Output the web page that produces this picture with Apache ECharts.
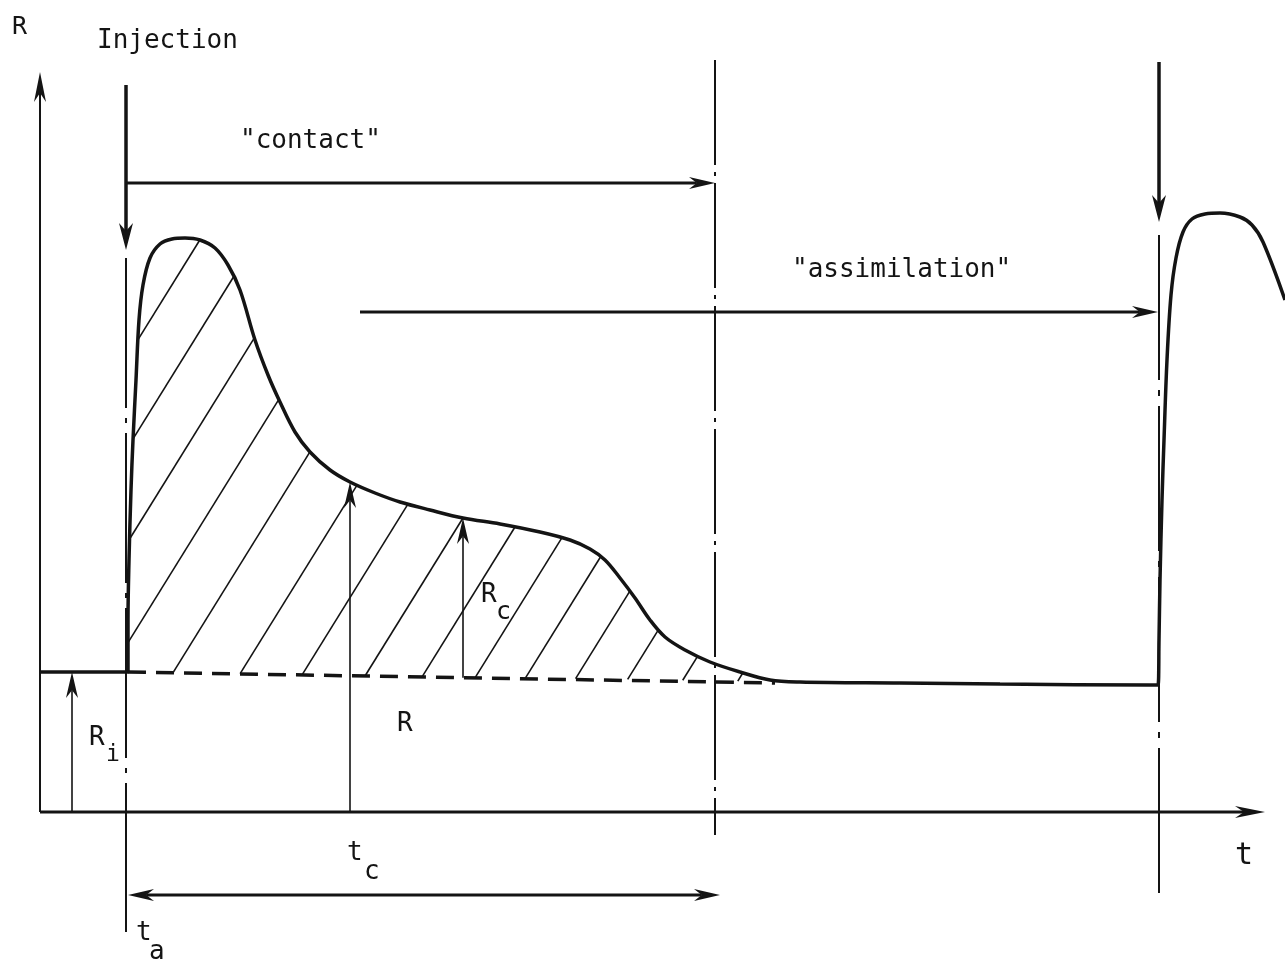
<!DOCTYPE html>
<html>
<head>
<meta charset="utf-8">
<title>Response R(t) after injection</title>
<script src="https://cdn.jsdelivr.net/npm/echarts@6/dist/echarts.min.js"></script>
<style>
  html, body { margin: 0; padding: 0; background: #fff; }
  #chart { width: 1285px; height: 960px; }
</style>
</head>
<body>
<div id="chart"></div>
<script>
// Response R versus time t. Both axes use the same unit length,
// so the hatching angle is the same in data space and on screen.

// Recorded response: baseline R_i, peak after the first injection,
// relaxation back to the baseline, then the start of the next peak.
const responseT = [0, 84, 88, 88, 89, 91, 93, 96, 99, 103,
  110, 120, 132, 145, 160, 175, 188, 200, 215, 228,
  240, 255, 270, 290, 310, 335, 360, 390, 423, 460,
  500, 530, 550, 565, 580, 595, 610, 625, 645, 670,
  700, 730, 760, 860, 960, 1110, 1118, 1119, 1120, 1122,
  1124, 1127, 1131, 1136, 1143, 1152, 1165, 1180, 1200, 1212,
  1223, 1245];
const responseR = [140, 140, 140, 192, 252, 322, 372, 432, 492, 527,
  554, 568, 573, 574, 572, 564, 547, 522, 472, 437,
  410, 380, 360, 342, 330, 319, 310, 302, 294, 288,
  280, 272, 263, 252, 234, 214, 192, 175, 162, 150,
  140, 132, 130, 129, 128, 127, 127, 172, 232, 312,
  372, 452, 517, 554, 580, 593, 598, 599, 595, 587,
  570, 512];

// Initial level R_i carried under the first peak
const baselineT = [88, 735];
const baselineR = [140, 129];

// Where each hatch stroke of the contact area crosses the baseline
const hatchT = [-106, -50, 8, 70, 133, 200, 262, 325, 382, 435, 485, 535, 587, 642, 697];

// Characteristic times
const tInjection = [86, 1119];        // t_a and the next injection
const contactSpan = [86, 675];        // "contact"
const assimilationSpan = [320, 1118]; // "assimilation"
const contactTimeSpan = [88, 680];    // t_c
const tSampleR = 310;                 // where R is read
const tSampleRc = 423;                // where R_c is read
const tRi = 32;                       // where R_i is read

const INK = '#141414';
const FONT = '"DejaVu Sans Mono", "Liberation Mono", monospace';
const HATCH_SLOPE = 0.62; // dt per unit of R along a hatch stroke

function interp(xs, ys, x) {
  if (x <= xs[0]) return ys[0];
  for (let i = 1; i < xs.length; i++) {
    if (x <= xs[i]) {
      const x0 = xs[i - 1], x1 = xs[i];
      if (x1 === x0) return ys[i];
      return ys[i - 1] + (ys[i] - ys[i - 1]) * (x - x0) / (x1 - x0);
    }
  }
  return ys[ys.length - 1];
}
function baseAt(t) {
  const k = (baselineR[1] - baselineR[0]) / (baselineT[1] - baselineT[0]);
  return baselineR[0] + k * (t - baselineT[0]);
}
// response value on the first peak at time t
function responseAt(t) {
  const n = responseT.findIndex(v => v > 760);
  return interp(responseT.slice(3, n), responseR.slice(3, n), t);
}

// Region between the first peak and the baseline, used to clip the hatching
const hatchPoly = [];
responseT.forEach((t, i) => { if (t >= 88 && t <= 760) hatchPoly.push([t, responseR[i]]); });

function hatchSegments(t0) {
  const p0 = [t0, baseAt(t0)];
  const d = [HATCH_SLOPE, 1];
  const hits = [];
  for (let i = 0; i < hatchPoly.length; i++) {
    const a = hatchPoly[i], b = hatchPoly[(i + 1) % hatchPoly.length];
    const e = [b[0] - a[0], b[1] - a[1]];
    const den = d[0] * e[1] - d[1] * e[0];
    if (Math.abs(den) < 1e-9) continue;
    const w = [a[0] - p0[0], a[1] - p0[1]];
    const s = (w[0] * e[1] - w[1] * e[0]) / den;
    const u = (w[0] * d[1] - w[1] * d[0]) / den;
    if (u >= 0 && u < 1) hits.push(s);
  }
  hits.sort((x, y) => x - y);
  const segs = [];
  for (let i = 0; i + 1 < hits.length; i += 2) {
    segs.push([[p0[0] + d[0] * hits[i], p0[1] + hits[i]],
               [p0[0] + d[0] * hits[i + 1], p0[1] + hits[i + 1]]]);
  }
  return segs;
}

function arrowHead(tip, ang, L, W) {
  const c = Math.cos(ang), s = Math.sin(ang);
  const pt = (a, b) => [tip[0] + a * c - b * s, tip[1] + a * s + b * c];
  return {
    type: 'polygon',
    shape: { points: [pt(0, 0), pt(-L, W / 2), pt(-0.7 * L, 0), pt(-L, -W / 2)] },
    style: { fill: INK }
  };
}
function arrowRenderer(width, L, W) {
  return function (params, api) {
    const p1 = api.coord([api.value(0), api.value(1)]);
    const p2 = api.coord([api.value(2), api.value(3)]);
    const both = api.value(4) === 2;
    const ang = Math.atan2(p2[1] - p1[1], p2[0] - p1[0]);
    const c = Math.cos(ang), s = Math.sin(ang);
    const back = 0.7 * L;
    const a = both ? [p1[0] + c * back, p1[1] + s * back] : p1;
    const b = [p2[0] - c * back, p2[1] - s * back];
    const children = [{
      type: 'line',
      shape: { x1: a[0], y1: a[1], x2: b[0], y2: b[1] },
      style: { stroke: INK, lineWidth: width }
    }, arrowHead(p2, ang, L, W)];
    if (both) children.push(arrowHead(p1, ang + Math.PI, L, W));
    return { type: 'group', children };
  };
}

// Arrow items: [t1, R1, t2, R2, heads]
const axisArrows = [
  [0, 0, 1225, 0, 1],
  [0, 0, 0, 740, 1]
];
const boldArrows = [
  [contactSpan[0], 629, contactSpan[1], 629, 1],
  [assimilationSpan[0], 500, assimilationSpan[1], 500, 1],
  [contactTimeSpan[0], -83, contactTimeSpan[1], -83, 2]
];
const injectionArrows = [
  [tInjection[0], 727, tInjection[0], 562, 1],
  [tInjection[1], 750, tInjection[1], 590, 1]
];
const levelArrows = [
  [tRi, 0, tRi, baseAt(88), 1],
  [tSampleR, 0, tSampleR, responseAt(tSampleR), 1],
  [tSampleRc, baseAt(tSampleRc), tSampleRc, responseAt(tSampleRc), 1]
];

function vline(t, r1, r2, dash) {
  return {
    type: 'line', data: [[t, r1], [t, r2]], showSymbol: false, symbol: 'none',
    clip: false, silent: true, z: 2,
    lineStyle: { color: INK, width: 2, type: dash }
  };
}

const chart = echarts.init(document.getElementById('chart'));
chart.setOption({
  backgroundColor: '#ffffff',
  animation: false,
  grid: { left: 40, right: 0, top: 0, bottom: 148 },
  xAxis: {
    type: 'value', min: 0, max: 1245,
    axisLine: { show: false }, axisTick: { show: false },
    axisLabel: { show: false }, splitLine: { show: false }
  },
  yAxis: {
    type: 'value', min: 0, max: 812,
    axisLine: { show: false }, axisTick: { show: false },
    axisLabel: { show: false }, splitLine: { show: false }
  },
  series: [
    // hatching of the contact area
    {
      type: 'custom', z: 3, silent: true,
      data: hatchT.map(t => [t, baseAt(t)]),
      renderItem: function (params, api) {
        const segs = hatchSegments(api.value(0));
        return {
          type: 'group',
          children: segs.map(sg => {
            const a = api.coord(sg[0]), b = api.coord(sg[1]);
            return { type: 'line', shape: { x1: a[0], y1: a[1], x2: b[0], y2: b[1] },
              style: { stroke: INK, lineWidth: 1.6 } };
          })
        };
      }
    },
    // dashed R_i under the peak
    {
      type: 'line', z: 4, silent: true, showSymbol: false, symbol: 'none', clip: false,
      data: baselineT.map((t, i) => [t, baselineR[i]]),
      lineStyle: { color: INK, width: 3.5, type: [18, 10] }
    },
    // response curve
    {
      type: 'line', z: 5, silent: true, showSymbol: false, symbol: 'none', clip: false,
      smooth: 0.35,
      data: responseT.map((t, i) => [t, responseR[i]]),
      lineStyle: { color: INK, width: 3.5 }
    },
    // dash-dot markers at the injections and at the end of contact
    vline(tInjection[0], 554, -120, [150, 10, 5, 10]),
    vline(contactSpan[1], 752, -23, [105, 7, 4, 7]),
    vline(tInjection[1], 577, -88, [145, 10, 6, 10]),
    // t and R axes
    { type: 'custom', z: 6, silent: true, data: axisArrows.slice(0, 1), renderItem: arrowRenderer(3, 30, 12) },
    { type: 'custom', z: 6, silent: true, data: axisArrows.slice(1), renderItem: arrowRenderer(2, 30, 12) },
    { type: 'custom', z: 6, silent: true, data: boldArrows, renderItem: arrowRenderer(3, 26, 12) },
    { type: 'custom', z: 6, silent: true, data: injectionArrows, renderItem: arrowRenderer(3.5, 27, 14) },
    { type: 'custom', z: 6, silent: true, data: levelArrows, renderItem: arrowRenderer(1.6, 26, 12) }
  ]
});

// Text annotations anchored in data coordinates: [text, t, R, fontSize]
const notes = [
  ['R', -28, 785, 25],
  ['Injection', 57, 771, 26],
  ['"contact"', 200, 671, 26],
  ['"assimilation"', 752, 542, 26],
  ['R', 357, 88, 26],
  ['R', 49, 74, 26], ['i', 66, 57, 23],
  ['R', 441, 217, 26], ['c', 456, 200, 25],
  ['t', 307, -41, 26], ['c', 324, -60, 26],
  ['t', 1195, -44, 30],
  ['t', 96, -121, 26], ['a', 109, -140, 26]
];
chart.setOption({
  graphic: notes.map(n => {
    const p = chart.convertToPixel({ gridIndex: 0 }, [n[1], n[2]]);
    return {
      type: 'text', silent: true, z: 10, x: p[0], y: p[1],
      style: {
        text: n[0], fill: INK, fontFamily: FONT, fontSize: n[3],
        align: 'left', verticalAlign: 'middle'
      }
    };
  })
});
</script>
</body>
</html>
